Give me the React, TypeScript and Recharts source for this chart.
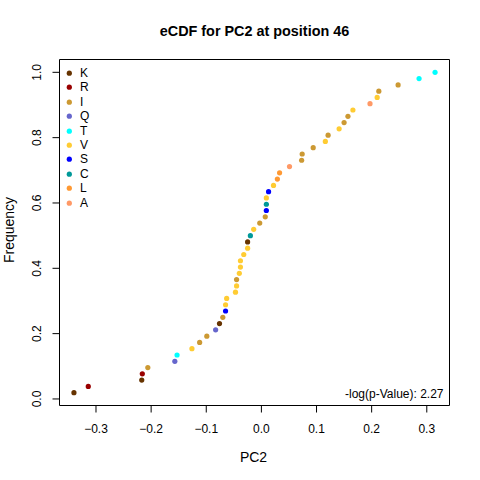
import React from 'react';
import {
  ScatterChart,
  Scatter,
  XAxis,
  YAxis,
  ReferenceArea,
  Legend,
} from 'recharts';

// Sorted PC2 values (one per sequence) and the residue found at position 46
const pc2Values = [
  -0.340, -0.314, -0.217, -0.216, -0.206, -0.157, -0.153, -0.126, -0.112, -0.099,
  -0.083, -0.076, -0.070, -0.065, -0.065, -0.063, -0.047, -0.045, -0.045, -0.040,
  -0.038, -0.038, -0.032, -0.025, -0.025, -0.020, -0.014, -0.003, 0.007, 0.009,
  0.009, 0.009, 0.013, 0.022, 0.029, 0.033, 0.051, 0.073, 0.074, 0.094,
  0.116, 0.121, 0.141, 0.150, 0.157, 0.166, 0.197, 0.210, 0.213, 0.248,
  0.286, 0.315,
];

const residues = [
  'K', 'R', 'K', 'R', 'I', 'Q', 'T', 'V', 'I', 'I',
  'Q', 'K', 'I', 'S', 'V', 'V', 'V', 'V', 'I', 'V',
  'V', 'V', 'V', 'V', 'K', 'C', 'V', 'I', 'I', 'S',
  'C', 'V', 'S', 'V', 'L', 'L', 'A', 'I', 'I', 'I',
  'V', 'I', 'V', 'I', 'I', 'V', 'A', 'V', 'I', 'I',
  'T', 'T',
];

const legendResidues = ['K', 'R', 'I', 'Q', 'T', 'V', 'S', 'C', 'L', 'A'];
const legendColors = [
  '#663300', '#990000', '#CC9933', '#6666CC', '#00FFFF',
  '#FFCC33', '#0000FF', '#009999', '#FF9933', '#FF9966',
];

const xTicks = [-0.3, -0.2, -0.1, 0.0, 0.1, 0.2, 0.3];
const yTicks = [0.0, 0.2, 0.4, 0.6, 0.8, 1.0];

const titleText = 'eCDF for PC2 at position 46';
const xLabelText = 'PC2';
const yLabelText = 'Frequency';
const pValueText = '-log(p-Value): 2.27';

const colorOf: Record<string, string> = {};
legendResidues.forEach((r, i) => {
  colorOf[r] = legendColors[i];
});

// empirical CDF: i-th sorted value has frequency i/n
const n = pc2Values.length;
const data = pc2Values.map((v, i) => ({
  pc2: v,
  freq: (i + 1) / n,
  residue: residues[i],
}));

// R-style 4% axis extension
const ext = (lo: number, hi: number): [number, number] => {
  const d = (hi - lo) * 0.04;
  return [lo - d, hi + d];
};
const [xMin, xMax] = ext(Math.min(...pc2Values), Math.max(...pc2Values));
const [yMin, yMax] = ext(1 / n, 1);

const FONT = '"Liberation Sans", Arial, Helvetica, sans-serif';

const fmt = (v: number) => {
  const s = Math.abs(v).toFixed(1);
  return v < -1e-9 ? '\u2212' + s : s;
};

const XTick = (props: any) => {
  const { x, y, payload } = props;
  return (
    <text x={x} y={y} dy={20} textAnchor="middle" fontSize={12} fontFamily={FONT} fill="#000">
      {fmt(Number(payload.value))}
    </text>
  );
};

const YTick = (props: any) => {
  const { x, y, payload } = props;
  const bx = x - 11;
  return (
    <text
      x={bx}
      y={y}
      transform={`rotate(-90, ${bx}, ${y})`}
      textAnchor="middle"
      fontSize={12}
      fontFamily={FONT}
      fill="#000"
    >
      {fmt(Number(payload.value))}
    </text>
  );
};

const renderLegend = () => (
  <div style={{ fontFamily: FONT, fontSize: 12, color: '#000' }}>
    {legendResidues.map((r, i) => (
      <div key={r} style={{ display: 'flex', alignItems: 'center', height: 14.4, lineHeight: '14.4px' }}>
        <svg width={16} height={14.4} style={{ display: 'block' }}>
          <circle cx={7.3} cy={7.2} r={2.6} fill={legendColors[i]} />
        </svg>
        <span style={{ marginLeft: 2 }}>{r}</span>
      </div>
    ))}
  </div>
);

export default function App() {
  return (
    <div style={{ position: 'absolute', left: 0, top: 0, width: 480, height: 480, background: '#fff' }}>
      <div
        style={{
          position: 'absolute',
          left: 59.5,
          width: 390,
          top: 22.7,
          textAlign: 'center',
          fontFamily: FONT,
          fontWeight: 'bold',
          fontSize: 14.4,
          lineHeight: '16px',
          color: '#000',
        }}
      >
        {titleText}
      </div>
      <ScatterChart
        width={480}
        height={480}
        margin={{ top: 59.5, right: 30.5, bottom: 0, left: 0 }}
        style={{ position: 'absolute', left: 0, top: 0 }}
      >
        <XAxis
          type="number"
          dataKey="pc2"
          domain={[xMin, xMax]}
          allowDataOverflow
          ticks={xTicks}
          interval={0}
          height={74.5}
          axisLine={false}
          tickLine={{ stroke: '#000' }}
          stroke="#000"
          tickSize={7}
          tickMargin={0}
          tick={<XTick />}
          label={{
            content: (p: any) => {
              const vb = p.viewBox || { x: 59.5, y: 405.5, width: 390 };
              return (
                <text x={vb.x + vb.width / 2 - 1} y={vb.y + 56.5} textAnchor="middle" fontSize={14} fontFamily={FONT} fill="#000">
                  {xLabelText}
                </text>
              );
            },
          }}
        />
        <YAxis
          type="number"
          dataKey="freq"
          domain={[yMin, yMax]}
          allowDataOverflow
          ticks={yTicks}
          interval={0}
          width={59.5}
          axisLine={false}
          tickLine={{ stroke: '#000' }}
          stroke="#000"
          tickSize={7}
          tickMargin={0}
          tick={<YTick />}
          label={{
            content: (p: any) => {
              const vb = p.viewBox || { x: 0, y: 59.5, height: 346 };
              const lx = vb.x + 13.6;
              const ly = vb.y + vb.height / 2 - 2.5;
              return (
                <text
                  x={lx}
                  y={ly}
                  transform={`rotate(-90, ${lx}, ${ly})`}
                  textAnchor="middle"
                  fontSize={14}
                  fontFamily={FONT}
                  fill="#000"
                >
                  {yLabelText}
                </text>
              );
            },
          }}
        />
        <ReferenceArea
          x1={xMin}
          x2={xMax}
          y1={yMin}
          y2={yMax}
          ifOverflow="visible"
          fill="none"
          fillOpacity={0}
          stroke="#000"
          strokeWidth={1}
          strokeOpacity={1}
          label={{
            content: (p: any) => {
              const vb = p.viewBox || { x: 59.5, y: 59.5, width: 390, height: 346 };
              return (
                <text
                  x={vb.x + vb.width - 6}
                  y={vb.y + vb.height - 7.5}
                  textAnchor="end"
                  fontSize={12}
                  fontFamily={FONT}
                  fill="#000"
                >
                  {pValueText}
                </text>
              );
            },
          }}
        />
        <Legend
          layout="vertical"
          align="center"
          verticalAlign="middle"
          content={renderLegend}
          wrapperStyle={{ left: 62, top: 66.1, width: 'auto', height: 'auto' }}
        />
        <Scatter
          data={data}
          isAnimationActive={false}
          shape={(p: any) => (
            <circle cx={p.cx} cy={p.cy} r={2.6} fill={colorOf[p.payload?.residue] || '#000'} />
          )}
        />
      </ScatterChart>
    </div>
  );
}
